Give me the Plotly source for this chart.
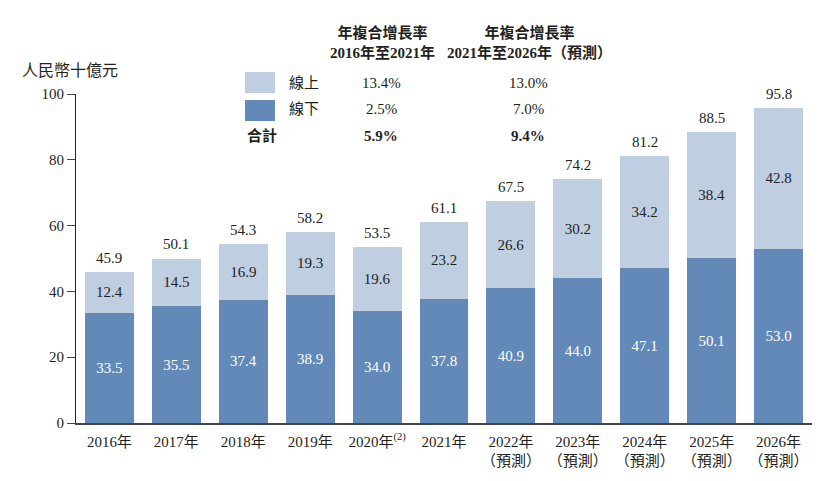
import plotly.graph_objects as go

years = ["2016年", "2017年", "2018年", "2019年", "2020年<sup>(2)</sup>", "2021年",
         "2022年<br>（預測）", "2023年<br>（預測）", "2024年<br>（預測）",
         "2025年<br>（預測）", "2026年<br>（預測）"]
offline = [33.5, 35.5, 37.4, 38.9, 34.0, 37.8, 40.9, 44.0, 47.1, 50.1, 53.0]
online = [12.4, 14.5, 16.9, 19.3, 19.6, 23.2, 26.6, 30.2, 34.2, 38.4, 42.8]
totals = [45.9, 50.1, 54.3, 58.2, 53.5, 61.1, 67.5, 74.2, 81.2, 88.5, 95.8]

series_names = ["線上", "線下"]
cagr_headers = ["<b>年複合增長率<br>2016年至2021年</b>", "<b>年複合增長率<br>2021年至2026年（預測）</b>"]
cagr_online = ["13.4%", "13.0%"]
cagr_offline = ["2.5%", "7.0%"]
cagr_total = ["5.9%", "9.4%"]
y_title = "人民幣十億元"

DARK = "#6389B8"
LIGHT = "#BFCFE1"
TXT = "#231F20"
FONT = "Liberation Serif, 'Noto Sans CJK TC', serif"

fig = go.Figure()
fig.add_trace(go.Bar(
    x=years, y=offline, name=series_names[1], marker=dict(color=DARK, line=dict(width=0)),
    text=[f"{v:.1f}" for v in offline], textposition="inside", insidetextanchor="middle",
    textfont=dict(color="white", size=15, family=FONT), textangle=0,
))
fig.add_trace(go.Bar(
    x=years, y=online, name=series_names[0], marker=dict(color=LIGHT, line=dict(width=0)),
    text=[f"{v:.1f}" for v in online], textposition="inside", insidetextanchor="middle",
    textfont=dict(color=TXT, size=15, family=FONT), textangle=0,
))

# page body has an 8px default margin; window coords -> figure coords
OFF = 8
W, H = 826 - OFF, 481 - OFF
L, R, T, B = 76 - OFF, 14, 94 - OFF, 58
pw = W - L - R
ph = H - T - B

def px(x):
    return (x - OFF - L) / pw

def py(y):
    return (H - B - (y - OFF)) / ph

shapes = [
    dict(type="rect", xref="paper", yref="paper", x0=px(245), x1=px(275), y0=py(93), y1=py(72),
         fillcolor=LIGHT, line=dict(width=0)),
    dict(type="rect", xref="paper", yref="paper", x0=px(245), x1=px(275), y0=py(121), y1=py(100),
         fillcolor=DARK, line=dict(width=0)),
]

ann = []
def add(text, x, y, xanchor="center", size=15):
    ann.append(dict(text=text, xref="paper", yref="paper", x=px(x), y=py(y), xanchor=xanchor,
                    yanchor="middle", showarrow=False, font=dict(size=size, color=TXT, family=FONT)))

add(cagr_headers[0], 382, 43)
add(cagr_headers[1], 529, 43)
add(series_names[0], 287, 83, "left")
add(series_names[1], 287, 109, "left")
add("<b>合計</b>", 245, 136, "left")
for i, cx in enumerate([381, 528]):
    add(cagr_online[i], cx, 83)
    add(cagr_offline[i], cx, 109)
    add(f"<b>{cagr_total[i]}</b>", cx, 136)
add(y_title, 20, 70, "left", 16)

for yr, tot in zip(years, totals):
    ann.append(dict(text=f"{tot:.1f}", x=yr, y=tot, xref="x", yref="y", xanchor="center",
                    yanchor="bottom", yshift=4, showarrow=False,
                    font=dict(size=15, color=TXT, family=FONT)))

fig.update_layout(
    width=W, height=H, margin=dict(l=L, r=R, t=T, b=B),
    barmode="stack", bargap=0.27, showlegend=False,
    plot_bgcolor="white", paper_bgcolor="white",
    font=dict(family=FONT, size=15, color=TXT),
    shapes=shapes, annotations=ann,
)
fig.update_xaxes(showline=True, linecolor="#444", linewidth=1.5, ticks="", showgrid=False,
                 tickfont=dict(size=15, color=TXT, family=FONT), fixedrange=True, automargin=False,
                 ticklabelstandoff=4)
fig.update_yaxes(range=[0, 100], tickvals=[0, 20, 40, 60, 80, 100], showline=True, linecolor="#222",
                 linewidth=1.2, ticks="outside", ticklen=8, tickcolor="#444", showgrid=False,
                 zeroline=False, tickfont=dict(size=15, color=TXT, family=FONT), automargin=False)

fig.write_html("out.html")
